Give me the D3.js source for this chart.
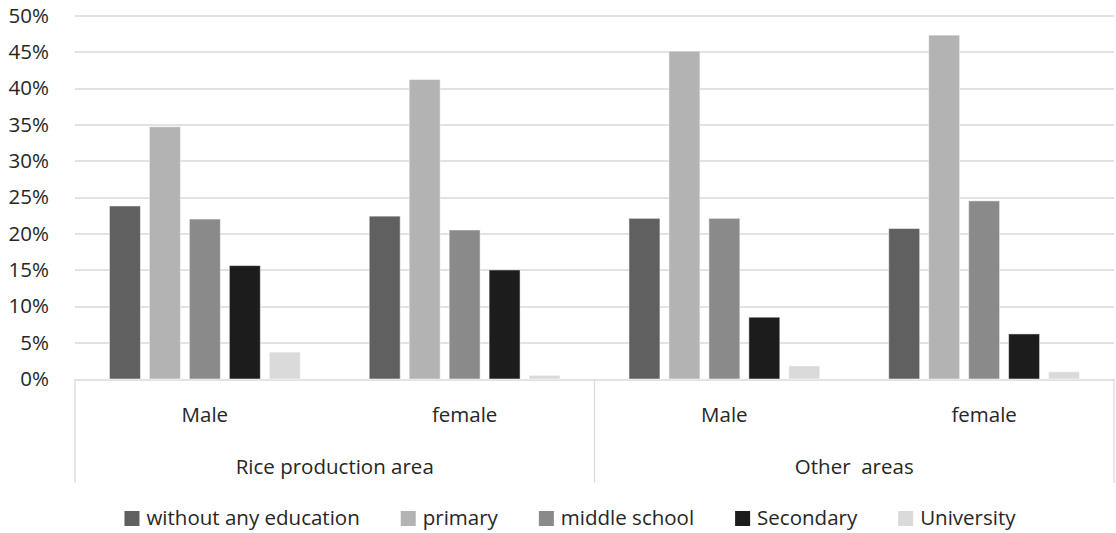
<!DOCTYPE html>
<html>
<head>
<meta charset="utf-8">
<script src="https://d3js.org/d3.v7.min.js"></script>
<style>
  body { margin: 0; background: #fff; }
  svg text { font-family: "Open Sans", sans-serif; fill: #262626; }
</style>
</head>
<body>
<div class="wrapper"></div>
<script>
// data (percent)
var groups = ["Rice production area", "Other  areas"];
var genders = ["Male", "female"];
var series = ["without any education", "primary", "middle school", "Secondary", "University"];
var colors = ["#606060", "#b3b3b3", "#8a8a8a", "#1c1c1c", "#dadada"];
var riceMale = [23.8, 34.7, 22.0, 15.6, 3.7];
var riceFemale = [22.4, 41.2, 20.5, 15.0, 0.5];
var otherMale = [22.1, 45.1, 22.1, 8.5, 1.8];
var otherFemale = [20.7, 47.3, 24.5, 6.2, 1.0];
var yTicks = [0, 5, 10, 15, 20, 25, 30, 35, 40, 45, 50];

// one row per bar cluster
var rows = [
  {group: groups[0], gender: genders[0], values: riceMale},
  {group: groups[0], gender: genders[1], values: riceFemale},
  {group: groups[1], gender: genders[0], values: otherMale},
  {group: groups[1], gender: genders[1], values: otherFemale}
];
rows.forEach(function(d, i) { d.key = "c" + i; });

var W = 1116, H = 533;
var fontSize = "20.5px";
var margin = {top: 15.5, right: 2, bottom: 154, left: 75};
var width = W - margin.left - margin.right,
    height = H - margin.top - margin.bottom;

var svg = d3.select(".wrapper")
  .append("svg")
    .attr("width", W)
    .attr("height", H);

var g = svg.append("g")
  .attr("transform", "translate(" + margin.left + "," + margin.top + ")");

var y = d3.scaleLinear().domain([0, 50]).range([height, 0]);

var x0 = d3.scaleBand()
  .domain(rows.map(function(d) { return d.key; }))
  .range([0, width]);

var x1 = d3.scaleBand()
  .domain(series)
  .range([0, x0.bandwidth()])
  .paddingInner(0.225)
  .paddingOuter(0.8625);

var color = d3.scaleOrdinal().domain(series).range(colors);

// gridlines
g.selectAll(".grid")
  .data(yTicks)
  .enter()
  .append("line")
    .attr("x1", 0)
    .attr("x2", width)
    .attr("y1", function(d) { return Math.round(y(d)) + 0.5; })
    .attr("y2", function(d) { return Math.round(y(d)) + 0.5; })
    .style("stroke", "#d9d9d9")
    .style("stroke-width", 1.3);

// y axis labels
var yAxis = d3.axisLeft(y)
  .tickValues(yTicks)
  .tickSize(0)
  .tickPadding(26)
  .tickFormat(function(d) { return d + "%"; });

g.append("g")
  .call(yAxis)
  .call(function(a) { a.select(".domain").remove(); })
  .selectAll("text")
    .style("font-family", "'Open Sans', sans-serif")
    .style("font-size", fontSize)
    .attr("fill", "#262626");

// bars
g.selectAll(".cluster")
  .data(rows)
  .enter()
  .append("g")
    .attr("transform", function(d) { return "translate(" + x0(d.key) + ",0)"; })
  .selectAll("rect")
  .data(function(d) { return d.values.map(function(v, i) { return {s: series[i], v: v}; }); })
  .enter()
  .append("rect")
    .attr("x", function(d) { return x1(d.s); })
    .attr("width", x1.bandwidth())
    .attr("y", function(d) { return y(d.v); })
    .attr("height", function(d) { return y(0) - y(d.v); })
    .style("fill", function(d) { return color(d.s); })
    .style("stroke", "#ffffff")
    .style("stroke-opacity", 0.5)
    .style("stroke-width", 1);

// category axis (two levels)
var axisDepth = 104;
var cat = g.append("g").attr("transform", "translate(0," + height + ")");

var groupEdges = [0, x0(rows[2].key), width];
cat.selectAll(".sep")
  .data(groupEdges)
  .enter()
  .append("line")
    .attr("x1", function(d) { return d; })
    .attr("x2", function(d) { return d; })
    .attr("y1", 0)
    .attr("y2", axisDepth)
    .style("stroke", "#d9d9d9")
    .style("stroke-width", 1.3);

cat.selectAll(".gender")
  .data(rows)
  .enter()
  .append("text")
    .attr("x", function(d) { return x0(d.key) + x0.bandwidth() / 2; })
    .attr("y", 36)
    .attr("dy", "0.35em")
    .attr("text-anchor", "middle")
    .style("font-size", fontSize)
    .text(function(d) { return d.gender; });

cat.selectAll(".grp")
  .data(groups)
  .enter()
  .append("text")
    .attr("x", function(d, i) { return (groupEdges[i] + groupEdges[i + 1]) / 2; })
    .attr("y", 88)
    .attr("dy", "0.35em")
    .attr("text-anchor", "middle")
    .style("font-size", fontSize)
    .style("white-space", "pre")
    .text(function(d) { return d; });

// legend, laid out by text widths and centred
var legend = svg.append("g");
var item = legend.selectAll(".item")
  .data(series)
  .enter()
  .append("g");

item.append("rect")
  .attr("width", 15)
  .attr("height", 15)
  .attr("y", -7)
  .style("fill", function(d) { return color(d); });

item.append("text")
  .attr("x", 22)
  .attr("dy", "0.35em")
  .style("font-size", fontSize)
  .text(function(d) { return d; });

var cursor = 0;
item.each(function() {
  var w = 22 + this.querySelector("text").getComputedTextLength();
  d3.select(this).attr("transform", "translate(" + cursor + ",0)");
  cursor += w + 41;
});
var total = cursor - 41;
legend.attr("transform", "translate(" + (570 - total / 2) + ",518)");
</script>
</body>
</html>
